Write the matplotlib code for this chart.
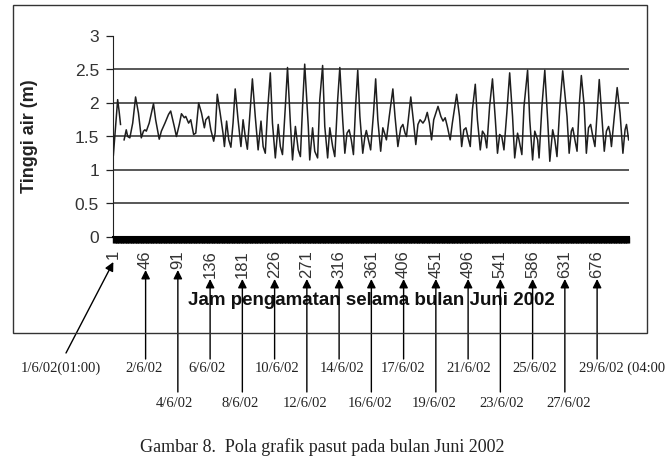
import matplotlib.pyplot as plt
import numpy as np
from matplotlib.patches import Rectangle

# turning points of the hourly tide record (hour of June 2002, water level in m)
turn_hours = [
    1, 3, 7, 9, 11, 13, 16, 19, 21, 24, 28, 32, 36, 40, 43, 45, 47, 51, 57, 60,
    65, 68, 73, 78, 81, 86, 89, 93, 96, 100, 102, 106, 109, 113, 116, 120, 124,
    128, 130, 134, 137, 141, 143, 146, 150, 154, 156, 159, 162, 165, 168, 171,
    175, 179, 182, 185, 188, 192, 195, 199, 203, 207, 210, 213, 216, 220, 223,
    227, 231, 234, 237, 241, 244, 248, 251, 255, 259, 262, 265, 268, 273, 275,
    279, 282, 286, 289, 293, 296, 300, 303, 307, 310, 314,
    317, 321, 324, 327, 330, 333, 336, 339, 342, 345, 349, 352, 354, 358, 360,
    364, 367, 370, 374, 377, 380, 382, 386, 391, 394, 398, 402, 405, 408, 410,
    413, 416, 420, 423, 426, 429, 433, 436, 439, 442, 445, 448, 454, 458, 461,
    464, 467, 471, 474, 480, 484, 487, 490, 493, 496, 499, 502, 506, 509, 513,
    516, 519, 522, 526, 530, 534, 537, 540, 543, 546, 550, 554, 558, 561, 565,
    567, 571, 574, 579, 582, 586, 589, 593, 595, 599, 603, 607, 610, 614, 617,
    620, 624,
    628, 634, 637, 640, 642, 645, 648, 651, 654, 658, 661, 664, 667, 670, 673,
    676, 679, 682, 686, 689, 692, 694, 696, 700, 704, 708, 712, 715, 717, 720,
]
turn_levels = [
    1.22, 1.50, 2.05, 1.88, 1.68, np.nan, 1.45, 1.60, 1.50, 1.48, 1.70, 2.09,
    1.85, 1.48, 1.58, 1.60, 1.58, 1.70, 1.99, 1.75, 1.46, 1.58, 1.70, 1.83,
    1.88, 1.65, 1.50, 1.68, 1.84, 1.78, 1.80, 1.70, 1.75, 1.53, 1.55, 2.00,
    1.85, 1.63, 1.75, 1.80, 1.60, 1.43, 1.55, 2.13, 1.85, 1.55, 1.35, 1.73,
    1.45, 1.34, 1.70, 2.21, 1.75, 1.35, 1.75, 1.50, 1.31, 1.90, 2.36, 1.80,
    1.30, 1.73, 1.35, 1.25, 1.85, 2.45, 1.70, 1.18, 1.68, 1.35, 1.23, 1.95,
    2.53, 1.70, 1.15, 1.65, 1.30, 1.20, 1.95, 2.58, 1.65, 1.15, 1.63, 1.28,
    1.18, 2.05, 2.56, 1.65, 1.18, 1.63, 1.35, 1.20, 2.05,
    2.53, 1.75, 1.25, 1.55, 1.60, 1.45, 1.23, 1.95, 2.49, 1.80, 1.25, 1.50,
    1.59, 1.40, 1.30, 1.85, 2.36, 1.75, 1.28, 1.63, 1.53, 1.45, 1.80, 2.21,
    1.80, 1.35, 1.63, 1.68, 1.55, 1.50, 1.80, 2.09, 1.70, 1.38, 1.68, 1.75,
    1.70, 1.75, 1.86, 1.70, 1.45, 1.75, 1.95, 1.80, 1.73, 1.78, 1.65, 1.45,
    1.70, 2.13, 1.80, 1.35, 1.60, 1.63, 1.48, 1.35, 1.90, 2.28, 1.75, 1.30,
    1.58, 1.53, 1.33, 1.95, 2.36, 1.75, 1.25, 1.53, 1.50, 1.30, 1.85, 2.45,
    1.80, 1.18, 1.55, 1.45, 1.23, 1.95, 2.49, 1.75, 1.15, 1.58, 1.45, 1.18,
    1.95, 2.49, 1.75, 1.13, 1.60, 1.45, 1.20, 1.95,
    2.48, 1.80, 1.25, 1.58, 1.63, 1.45, 1.28, 1.95, 2.41, 1.95, 1.25, 1.63,
    1.68, 1.50, 1.35, 1.85, 2.35, 1.90, 1.28, 1.58, 1.65, 1.55, 1.35, 1.80,
    2.23, 1.85, 1.25, 1.60, 1.68, 1.45,
]

n_hours = 720
tick_hours = [1, 46, 91, 136, 181, 226, 271, 316, 361, 406, 451, 496, 541, 586, 631, 676]
y_ticks = [0, 0.5, 1, 1.5, 2, 2.5, 3]
y_tick_labels = ["0", "0.5", "1", "1.5", "2", "2.5", "3"]
grid_levels = [0.5, 1, 1.5, 2, 2.5]

date_labels = ["1/6/02(01:00)", "2/6/02", "4/6/02", "6/6/02", "8/6/02", "10/6/02",
               "12/6/02", "14/6/02", "16/6/02", "17/6/02", "19/6/02", "21/6/02",
               "23/6/02", "25/6/02", "27/6/02", "29/6/02 (04:00"]

# layout of the hand-drawn callouts below the chart (pixel positions in the page)
label_x_px = [61, 144, 174, 207, 240, 277, 305, 342, 370, 403, 434, 469, 502, 535, 569, 579]
label_row = [0, 0, 1, 0, 1, 0, 1, 0, 1, 0, 1, 0, 1, 0, 1, 0]
row_y_px = [368, 403]
tail_y_px = [359, 392]

W, H = 669, 465
plt.rcParams["font.family"] = ["Liberation Sans", "DejaVu Sans"]

fig = plt.figure(figsize=(W / 100, H / 100), dpi=100)
ax = fig.add_axes([113 / W, 1 - 237 / H, 516 / W, 201 / H])

ax_top, ax_bot = 36, 237


def ax_frac(py):
    return (ax_bot - py) / (ax_bot - ax_top)


for lvl in grid_levels:
    ax.axhline(lvl, color="#2a2a2a", lw=1.1, zorder=1)

ax.plot(turn_hours, turn_levels, color="#1e1e1e", lw=1.1, zorder=3)

ax.set_xlim(0.5, n_hours + 0.5)
ax.set_ylim(0, 3)
ax.set_yticks(y_ticks)
ax.set_yticklabels(y_tick_labels)
ax.set_xticks(tick_hours)
ax.set_xticklabels([str(t) for t in tick_hours], rotation=90, va="top")
ax.set_xticks(np.arange(1, n_hours + 1), minor=True)

for side in ("top", "right"):
    ax.spines[side].set_visible(False)
ax.spines["left"].set_color("#222")
ax.spines["bottom"].set_color("black")
ax.spines["bottom"].set_linewidth(1.5)

ax.tick_params(axis="y", direction="out", length=5, width=0.9, color="#222",
               labelsize=12.5, labelcolor="#333", pad=5)
ax.tick_params(axis="x", which="both", direction="out", length=4.5, width=1.0,
               color="black")
ax.tick_params(axis="x", which="major", labelsize=12, labelcolor="#333", pad=5)

ax.set_ylabel("Tinggi air (m)", fontsize=13, fontweight="bold", color="#222")
ax.yaxis.set_label_coords(-0.145, 0.5)
ax.set_xlabel("Jam pengamatan selama bulan Juni 2002", fontsize=13.5,
              fontweight="bold", color="#111")
ax.xaxis.label.set_va("center")
ax.xaxis.set_label_coords(0.5, ax_frac(300))

# outer chart frame
fig.add_artist(Rectangle((13 / W, 1 - 333 / H), (647 - 13) / W, (333 - 5) / H,
                         transform=fig.transFigure, fill=False,
                         edgecolor="#333", lw=1.0))

# callout arrows and date labels
xt = ax.get_xaxis_transform()
for i, (hr, lab) in enumerate(zip(tick_hours, date_labels)):
    row = label_row[i]
    ndig = len(str(hr))
    tip_py = 262 if ndig == 1 else (270 if ndig == 2 else 279)
    if i == 0:
        tail = ((66 - 113) / 0.7167 + 0.5, ax_frac(353))
    else:
        tail = (hr, ax_frac(tail_y_px[row]))
    ax.annotate("", xy=(hr, ax_frac(tip_py)), xycoords=xt,
                xytext=tail, textcoords=xt, annotation_clip=False,
                arrowprops=dict(arrowstyle="-|>", color="black", lw=1.0,
                                mutation_scale=13, shrinkA=0, shrinkB=0))
    ha = "left" if i == len(tick_hours) - 1 else "center"
    fig.text(label_x_px[i] / W, 1 - row_y_px[row] / H, lab, ha=ha, va="center",
             fontsize=10.5, family="Liberation Serif", color="#222")

fig.text(322 / W, 1 - 447 / H, "Gambar 8.  Pola grafik pasut pada bulan Juni 2002",
         ha="center", va="center", fontsize=13, family="Liberation Serif",
         color="#222")

fig.savefig("out.png", dpi=100)
